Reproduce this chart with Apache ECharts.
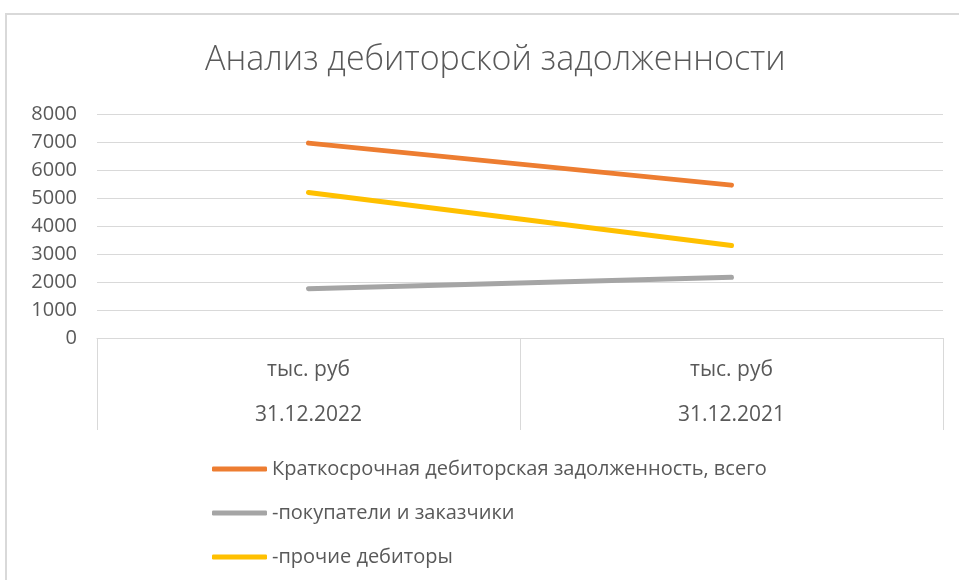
<!DOCTYPE html>
<html>
<head>
<meta charset="utf-8">
<script src="https://cdn.jsdelivr.net/npm/echarts@6/dist/echarts.min.js"></script>
<style>
  html, body { margin: 0; padding: 0; background: #ffffff; }
  #chart { width: 959px; height: 580px; }
</style>
</head>
<body>
<div id="chart"></div>
<script>
// Receivables analysis: two reporting dates, three series
const chartTitle = 'Анализ дебиторской задолженности';
const unitLabels = ['тыс. руб', 'тыс. руб'];
const dates = ['31.12.2022', '31.12.2021'];
const seriesNames = [
  'Краткосрочная дебиторская задолженность, всего',
  '-покупатели и заказчики',
  '-прочие дебиторы'
];
const totalReceivables = [6960, 5460];
const customers = [1760, 2170];
const otherDebtors = [5200, 3300];
const yTicks = { min: 0, max: 8000, interval: 1000 };

const categories = dates.map((d, i) => unitLabels[i] + '\n' + d);
const colors = ['#ED7D31', '#A5A5A5', '#FFC000'];
const values = [totalReceivables, customers, otherDebtors];
const font = '"Open Sans", "Noto Sans", sans-serif';
const textColor = '#595959';

const chart = echarts.init(document.getElementById('chart'), null, { renderer: 'canvas' });

chart.setOption({
  animation: false,
  backgroundColor: '#ffffff',
  graphic: [{
    type: 'rect',
    shape: { x: 6, y: 14, width: 1200, height: 1200 },
    style: { fill: 'none', stroke: '#d9d9d9', lineWidth: 2 },
    silent: true
  }],
  title: {
    text: chartTitle,
    left: 200,
    top: 38,
    textStyle: { fontFamily: font, fontSize: 34, fontWeight: 300, color: textColor }
  },
  grid: { left: 97, right: 16, top: 114, height: 224 },
  xAxis: {
    type: 'category',
    data: categories,
    boundaryGap: true,
    axisLine: { lineStyle: { color: '#d9d9d9', width: 1 } },
    axisTick: { show: true, length: 92, lineStyle: { color: '#d9d9d9', width: 1 } },
    axisLabel: {
      margin: 10,
      fontFamily: font,
      fontSize: 21,
      color: textColor,
      lineHeight: 45
    }
  },
  yAxis: {
    type: 'value',
    min: yTicks.min,
    max: yTicks.max,
    interval: yTicks.interval,
    axisLine: { show: false },
    axisTick: { show: false },
    splitLine: { lineStyle: { color: '#d9d9d9', width: 1 } },
    axisLabel: {
      margin: 20, fontFamily: font, fontSize: 20, color: textColor,
      formatter: v => String(v)
    }
  },
  legend: {
    orient: 'vertical',
    left: 207,
    top: 454,
    itemWidth: 55,
    itemHeight: 5,
    itemGap: 24,
    icon: 'roundRect',
    data: seriesNames,
    textStyle: { fontFamily: font, fontSize: 20, color: textColor, lineHeight: 20 }
  },
  series: seriesNames.map((n, i) => ({
    name: n,
    type: 'line',
    data: values[i],
    symbol: 'none',
    color: colors[i],
    itemStyle: { color: colors[i] },
    lineStyle: { color: colors[i], width: 5, cap: 'round' }
  }))
});
</script>
</body>
</html>
